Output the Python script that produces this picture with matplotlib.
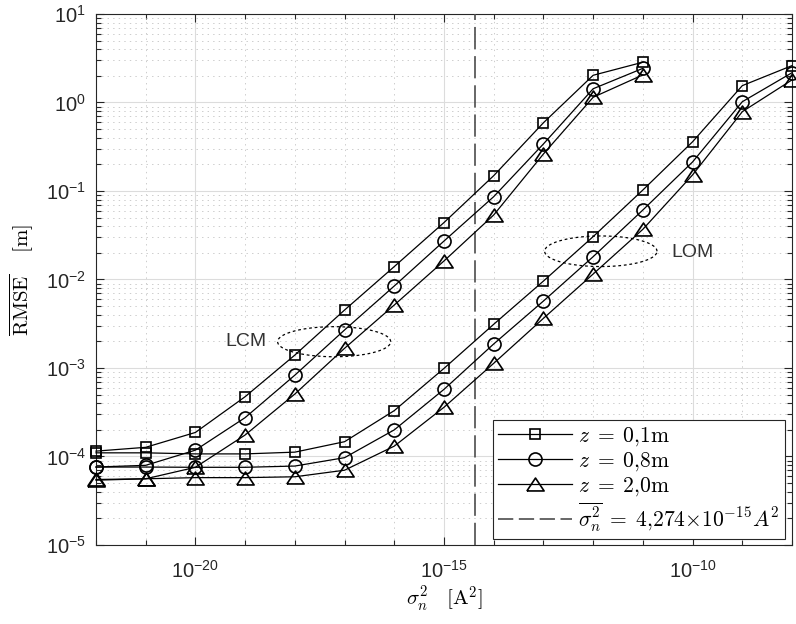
import matplotlib
matplotlib.use("Agg")
import matplotlib.pyplot as plt
import numpy as np
from matplotlib.ticker import FixedLocator, FixedFormatter, LogLocator, NullFormatter

plt.rcParams.update({
    "font.family": "Liberation Sans",
    "mathtext.fontset": "cm",
    "lines.scale_dashes": False,
    "axes.linewidth": 0.8,
    "axes.edgecolor": "#262626",
    "xtick.color": "#262626",
    "ytick.color": "#262626",
})

# noise variance (A^2) at which each curve was evaluated
sigma_lcm = [1e-22, 1e-21, 1e-20, 1e-19, 1e-18, 1e-17, 1e-16, 1e-15,
             1e-14, 1e-13, 1e-12, 1e-11]
sigma_lom = [1e-22, 1e-21, 1e-20, 1e-19, 1e-18, 1e-17, 1e-16, 1e-15,
             1e-14, 1e-13, 1e-12, 1e-11, 1e-10, 1e-9, 1e-8]

# mean RMSE [m], LCM
lcm_z01 = [1.15e-4, 1.27e-4, 1.87e-4, 4.74e-4, 1.40e-3, 4.52e-3, 1.40e-2,
           4.4e-2, 0.149, 0.59, 2.03, 2.85]
lcm_z08 = [7.6e-5, 7.95e-5, 1.18e-4, 2.75e-4, 8.3e-4, 2.69e-3, 8.45e-3,
           0.0272, 0.0863, 0.34, 1.43, 2.43]
lcm_z20 = [5.4e-5, 5.6e-5, 7.55e-5, 1.75e-4, 5.08e-4, 1.67e-3, 5.15e-3,
           0.0162, 0.0536, 0.262, 1.145, 2.05]

# mean RMSE [m], LOM
lom_z01 = [1.1e-4, 1.10e-4, 1.07e-4, 1.07e-4, 1.12e-4, 1.47e-4, 3.3e-4,
           9.9e-4, 3.12e-3, 9.6e-3, 0.0305, 0.1026, 0.36, 1.55, 2.61]
lom_z08 = [7.6e-5, 7.6e-5, 7.55e-5, 7.55e-5, 7.8e-5, 9.7e-5, 2.0e-4,
           5.74e-4, 1.87e-3, 5.71e-3, 0.0181, 0.061, 0.213, 1.02, 2.17]
lom_z20 = [5.5e-5, 5.6e-5, 5.77e-5, 5.77e-5, 5.9e-5, 7.0e-5, 1.31e-4,
           3.6e-4, 1.13e-3, 3.64e-3, 0.01153, 0.0369, 0.152, 0.787, 1.80]

sigma_mean = 4.274e-15

z_labels = [r"$z\;=\;0{,}1\mathrm{m}$", r"$z\;=\;0{,}8\mathrm{m}$",
            r"$z\;=\;2{,}0\mathrm{m}$"]
vline_label = r"$\overline{\sigma_n^2}\;=\;4{,}274{\times}10^{-15}A^2$"

x_major = [1e-20, 1e-15, 1e-10]
x_major_labels = [r"$\mathregular{10^{-20}}$", r"$\mathregular{10^{-15}}$",
                  r"$\mathregular{10^{-10}}$"]
x_minor = [1e-22, 1e-21, 1e-19, 1e-18, 1e-17, 1e-16, 1e-14, 1e-13,
           1e-12, 1e-11, 1e-9, 1e-8]
y_major = [1e-5, 1e-4, 1e-3, 1e-2, 1e-1, 1e0, 1e1]
y_major_labels = [r"$\mathregular{10^{-5}}$", r"$\mathregular{10^{-4}}$",
                  r"$\mathregular{10^{-3}}$", r"$\mathregular{10^{-2}}$",
                  r"$\mathregular{10^{-1}}$", r"$\mathregular{10^{0}}$",
                  r"$\mathregular{10^{1}}$"]

# MATLAB-like wide triangle
tri = [(-1.0, -0.75), (1.0, -0.75), (0.0, 0.75), (-1.0, -0.75)]
markers = [("s", 7.4), ("o", 9.4), (tri, 12.4)]

fig = plt.figure(figsize=(7.96, 6.24), dpi=100)
ax = fig.add_axes([0.1206, 0.1266, 0.8744, 0.851])

for ys, (m, ms), lab in zip([lcm_z01, lcm_z08, lcm_z20], markers, z_labels):
    ax.plot(sigma_lcm, ys, color="k", lw=0.9, marker=m, ms=ms, mfc="none",
            mec="k", mew=1.2, clip_on=False, zorder=4, label=lab)
for ys, (m, ms) in zip([lom_z01, lom_z08, lom_z20], markers):
    ax.plot(sigma_lom, ys, color="k", lw=0.9, marker=m, ms=ms, mfc="none",
            mec="k", mew=1.2, clip_on=False, zorder=4)

vl = ax.axvline(sigma_mean, color="#4d4d4d", lw=1.2, dashes=(16, 5), zorder=3)
# shorter dashes for the legend entry
ax.plot([], [], color="#4d4d4d", lw=1.2, dashes=(11, 4), label=vline_label)

# dotted ellipses grouping the two families (drawn in log space)
t = np.linspace(0, 2 * np.pi, 300)
for cx, cy, ax_w, ax_h in [(-17.21, -2.703, 1.137, 0.17),
                           (-11.846, -1.681, 1.13, 0.173)]:
    ax.plot(10 ** (cx + ax_w * np.cos(t)), 10 ** (cy + ax_h * np.sin(t)),
            color="k", lw=0.9, ls=(0, (2, 2)), zorder=3)

ax.text(10 ** -18.99, 10 ** -2.703, "LCM", fontsize=14, color="#333333",
        ha="center", va="center")
ax.text(10 ** -10.0, 10 ** -1.69, "LOM", fontsize=14, color="#333333",
        ha="center", va="center")

ax.set_xscale("log")
ax.set_yscale("log")
ax.set_xlim(1e-22, 1e-8)
ax.set_ylim(1e-5, 1e1)

ax.xaxis.set_major_locator(FixedLocator(x_major))
ax.xaxis.set_major_formatter(FixedFormatter(x_major_labels))
ax.xaxis.set_minor_locator(FixedLocator(x_minor))
ax.xaxis.set_minor_formatter(NullFormatter())
ax.yaxis.set_major_locator(FixedLocator(y_major))
ax.yaxis.set_major_formatter(FixedFormatter(y_major_labels))
ax.yaxis.set_minor_locator(LogLocator(base=10, subs=np.arange(2, 10), numticks=20))
ax.yaxis.set_minor_formatter(NullFormatter())

ax.tick_params(which="both", direction="in", top=True, right=True,
               labelsize=14.5, labelcolor="#262626", width=0.8)
ax.tick_params(which="major", length=6)
ax.tick_params(axis="x", which="major", pad=11)
ax.tick_params(axis="y", which="major", pad=7)
ax.tick_params(which="minor", length=3.5)

ax.grid(which="major", color="#dcdcdc", lw=0.8, ls="-")
ax.grid(which="minor", color="#cccccc", lw=0.7, ls=(0, (1, 3)))
ax.set_axisbelow(True)

ax.set_xlabel(r"$\sigma_n^2\quad[\mathrm{A}^2]$", fontsize=15, labelpad=2)
ax.set_ylabel(r"$\overline{\mathrm{RMSE}}\quad\;[\mathrm{m}]$", fontsize=15,
              labelpad=8)

leg = ax.legend(loc="lower right", bbox_to_anchor=(0.990, 0.011),
                borderaxespad=0, fontsize=15.5, handlelength=3.4,
                handletextpad=0.3, labelspacing=0.1, fancybox=False,
                framealpha=1, edgecolor="#262626", borderpad=0.25)
leg.get_frame().set_linewidth(0.8)

fig.savefig("out.png", dpi=100)
